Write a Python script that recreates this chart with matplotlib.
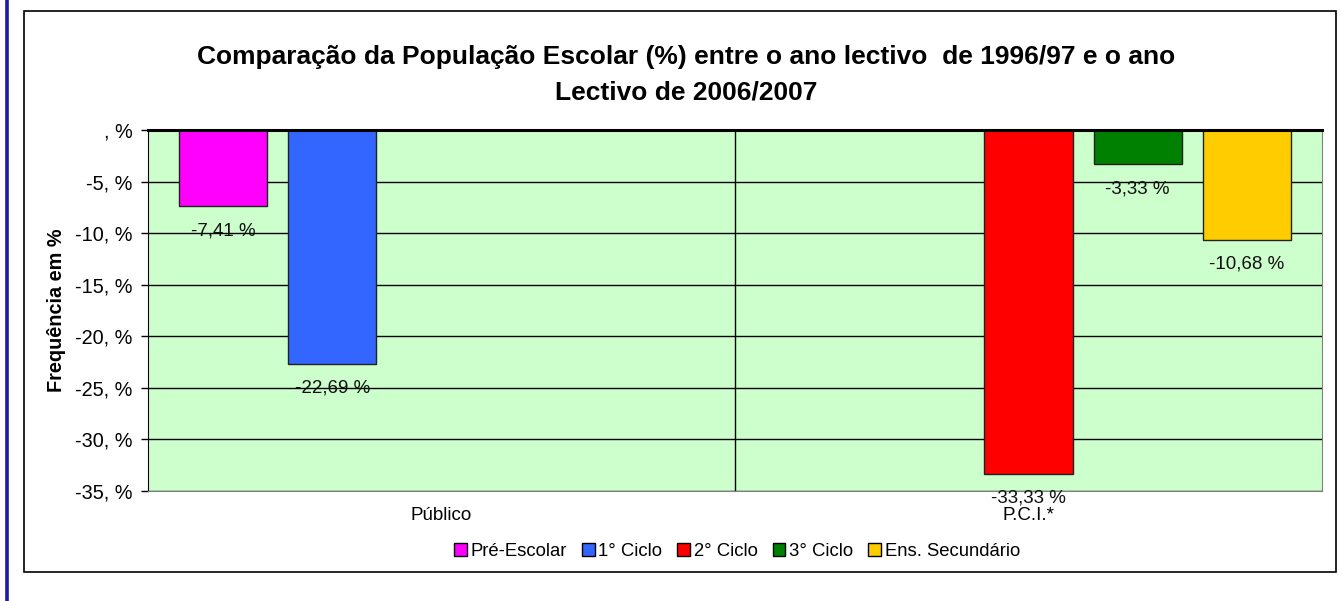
import matplotlib
matplotlib.use("Agg")
import matplotlib.pyplot as plt
from matplotlib.patches import Rectangle
from matplotlib.lines import Line2D
import numpy as np

plt.rcParams['font.family'] = ['Liberation Sans', 'DejaVu Sans']

categories = ["Público", "P.C.I.*"]
series_names = ["Pré-Escolar", "1° Ciclo", "2° Ciclo", "3° Ciclo", "Ens. Secundário"]
# values per series for [Público, P.C.I.*]; None = no bar
pre_escolar = [-7.41, None]
ciclo1 = [-22.69, None]
ciclo2 = [None, -33.33]
ciclo3 = [None, -3.33]
secundario = [None, -10.68]
series_values = [pre_escolar, ciclo1, ciclo2, ciclo3, secundario]
colors = ["#FF00FF", "#3366FF", "#FF0000", "#008000", "#FFCC00"]
yticks = [0, -5, -10, -15, -20, -25, -30, -35]
ytick_labels = [", %", "-5, %", "-10, %", "-15, %", "-20, %", "-25, %", "-30, %", "-35, %"]

W, H = 1342, 601
fig = plt.figure(figsize=(W / 100, H / 100), dpi=100)
fig.patch.set_facecolor("white")

# outer chart frame and left blue bar
fig.add_artist(Rectangle((24 / W, 1 - 572 / H), (1336 - 24) / W, (572 - 11) / H,
                         transform=fig.transFigure, fill=False, edgecolor="black", lw=1.2))
fig.add_artist(Line2D([6.5 / W, 6.5 / W], [0, 1], transform=fig.transFigure,
                      color="#1c1c9c", lw=2.6))

left, right, top, bottom = 148, 1322, 130, 491
ax = fig.add_axes([left / W, 1 - bottom / H, (right - left) / W, (bottom - top) / H])
ax.set_facecolor("#CCFFCC")
ax.set_xlim(-0.5, 1.5)
ax.set_ylim(-35, 0)

bw = 0.15
step = 0.186
x = np.arange(len(categories))
for i, (name, vals, c) in enumerate(zip(series_names, series_values, colors)):
    off = (i - 2) * step
    for j, v in enumerate(vals):
        if v is None:
            continue
        ax.bar(x[j] + off, v, width=bw, color=c, edgecolor="#202020", lw=1.0, zorder=3)
        ax.annotate(f"{v:.2f} %".replace(".", ","), (x[j] + off, v),
                    xytext=(0, -17.5), textcoords="offset points",
                    ha="center", va="center", fontsize=13.5, color="#111111", zorder=4)
    ax.bar([0], [0], width=0, color=c, edgecolor="black", label=name)

ax.set_yticks(yticks)
ax.set_yticklabels(ytick_labels, fontsize=14.3)
ax.yaxis.grid(True, color="black", lw=1.0, zorder=1)
ax.set_axisbelow(True)
ax.axvline(0.5, color="black", lw=1.0, zorder=1)
ax.set_xticks([])
ax.tick_params(axis="y", length=5, width=1, color="black", pad=6)
ax.spines["top"].set_linewidth(2.2)
ax.spines["top"].set_zorder(5)
ax.spines["left"].set_color("black")
ax.spines["bottom"].set_color("#808080")
ax.spines["right"].set_color("#808080")

trans = ax.get_xaxis_transform()
for j, cat in enumerate(categories):
    ax.text(x[j], -0.068, cat, transform=trans, ha="center", va="center", fontsize=13.5)

ax.set_ylabel("Frequência em %", fontsize=14.3, fontweight="bold")
ax.yaxis.set_label_coords((66 - left) / (right - left), (491 - 310) / (491 - 130))

fig.text(686 / W, 1 - 57 / H, "Comparação da População Escolar (%) entre o ano lectivo  de 1996/97 e o ano",
         ha="center", va="center", fontsize=19, fontweight="bold")
fig.text(686 / W, 1 - 92 / H, "Lectivo de 2006/2007",
         ha="center", va="center", fontsize=19, fontweight="bold")

leg = fig.legend(loc="center", bbox_to_anchor=(737 / W, 1 - 551 / H), ncol=5, frameon=False,
                 fontsize=13.3, handlelength=0.7, handleheight=0.7, handletextpad=0.2,
                 columnspacing=0.8, borderaxespad=0)

fig.savefig("out.png", dpi=100)
